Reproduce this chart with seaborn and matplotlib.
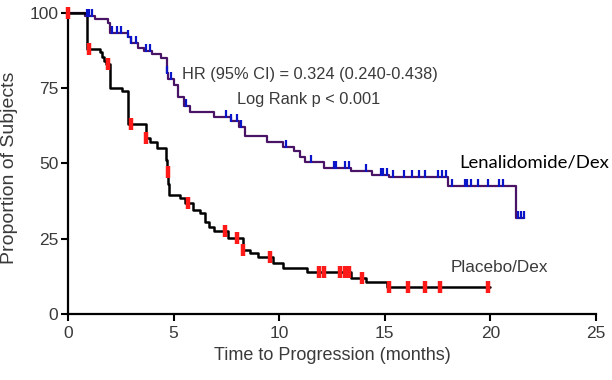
import numpy as np
import pandas as pd
import matplotlib
matplotlib.use("Agg")
import matplotlib.pyplot as plt
import seaborn as sns

# ---- data ----
len_time = [0, 0.8, 1.3, 1.9, 2.0, 2.85, 3.0, 3.3, 3.6, 4.0, 4.4, 4.7, 4.75, 5.0, 5.2, 5.5, 5.8,
            6.9, 7.7, 8.1, 8.4, 9.4, 10.2, 10.7, 11.0, 11.2, 12.1, 13.4, 14.4, 15.2, 18.0, 21.2, 21.6]
len_surv = [100, 99, 98, 96.5, 93.2, 92, 90, 88.5, 87.5, 86.5, 85, 80, 78, 76, 72, 69, 67,
            65.5, 64, 62, 59, 57, 55.5, 54, 52, 50.5, 48.5, 47.5, 46.2, 45.4, 42.6, 32, 32]
len_cens_t = [0.9, 1.0, 1.15, 2.1, 2.3, 2.5, 2.85, 3.0, 3.2, 3.7, 3.9, 4.7, 4.9, 5.6, 7.5, 7.7, 8.0, 8.2,
              10.3, 11.5, 12.6, 12.7, 13.1, 13.3, 14.1, 14.8, 14.9, 15.1, 15.4, 15.9, 16.3, 16.6, 16.9,
              17.5, 17.7, 17.9, 18.2, 18.8, 18.9, 19.1, 19.4, 19.9, 20.4, 20.6, 21.3, 21.45, 21.6]

pla_time = [0, 0.9, 1.5, 1.6, 1.7, 1.8, 2.0, 2.55, 2.85, 3.7, 3.9, 4.2, 4.65, 4.7, 4.75, 4.8,
            5.3, 5.55, 5.9, 6.25, 6.5, 6.7, 6.9, 7.6, 8.3, 8.6, 9.0, 9.7, 10.2, 11.3, 13.4, 14.1, 15.1, 20.0]
pla_surv = [100, 88, 87, 85.5, 84, 83, 75, 74, 63, 58.5, 57, 55, 51, 47, 43, 39.5,
            38.5, 37, 34.5, 33.5, 30.5, 29, 27.6, 25.3, 21.3, 20.3, 19, 17, 15.3, 14, 12, 10.6, 9, 9]
pla_cens_t = [0, 1.0, 1.9, 3.0, 3.7, 4.72, 5.7, 7.45, 8.0, 8.3, 9.57, 11.9, 12.1, 12.9, 13.1, 13.3,
              13.9, 15.2, 16.1, 16.9, 17.6, 19.9]

x_ticks = [0, 5, 10, 15, 20, 25]
y_ticks = [0, 25, 50, 75, 100]


def step_value(times, surv, t):
    idx = np.searchsorted(times, t, side="right") - 1
    return surv[max(idx, 0)]


len_df = pd.DataFrame({"t": len_time, "s": len_surv})
pla_df = pd.DataFrame({"t": pla_time, "s": pla_surv})
len_c = pd.DataFrame({"t": len_cens_t, "s": [step_value(len_time, len_surv, t) for t in len_cens_t]})
pla_c = pd.DataFrame({"t": pla_cens_t, "s": [step_value(pla_time, pla_surv, t) for t in pla_cens_t]})

sns.set_theme(style="ticks")
plt.rcParams["font.family"] = ["Liberation Sans", "DejaVu Sans"]

fig = plt.figure(figsize=(6.12, 3.80), dpi=100)
ax = fig.add_axes([0.111, 0.174, 0.863, 0.792])

line_purple = "#4a1466"
sns.lineplot(data=len_df, x="t", y="s", drawstyle="steps-post", color=line_purple, lw=1.6,
             estimator=None, sort=False, ax=ax, clip_on=False, zorder=3)
sns.lineplot(data=pla_df, x="t", y="s", drawstyle="steps-post", color="black", lw=1.8,
             estimator=None, sort=False, ax=ax, clip_on=False, zorder=3)

ax.plot(len_c["t"], len_c["s"] + 1.0, ls="none", marker="|", ms=6, mew=1.6,
        color="#0a14c8", clip_on=False, zorder=4)
ax.plot(pla_c["t"], pla_c["s"], ls="none", marker="|", ms=8, mew=3.2,
        color="#ff1a1a", clip_on=False, zorder=4)

ax.set_xlim(0, 25)
ax.set_ylim(0, 100)
ax.set_xticks(x_ticks)
ax.set_yticks(y_ticks)
ax.set_xticklabels([str(v) for v in x_ticks])
ax.set_yticklabels([str(v) for v in y_ticks])

txt = "#3a3a3a"
ax.tick_params(axis="both", direction="out", length=5, width=1.5, color="black",
               labelsize=12.5, labelcolor=txt)
ax.tick_params(axis="x", pad=4)
ax.tick_params(axis="y", pad=2)
for sp in ["top", "right"]:
    ax.spines[sp].set_visible(False)
for sp in ["left", "bottom"]:
    ax.spines[sp].set_linewidth(1.6)
    ax.spines[sp].set_color("black")

ax.set_xlabel("Time to Progression (months)", fontsize=13, color=txt)
ax.set_ylabel("Proportion of Subjects", fontsize=14, color=txt)
ax.xaxis.set_label_coords(0.5, -0.11)
ax.yaxis.set_label_coords(-0.095, 0.485)

ax.text(5.4, 79.4, "HR (95% CI) = 0.324 (0.240-0.438)", fontsize=11.8, color=txt,
        ha="left", va="center")
ax.text(8.0, 71.2, "Log Rank p < 0.001", fontsize=11.8, color=txt, ha="left", va="center")
ax.text(18.5, 50.2, "Lenalidomide/Dex", fontsize=13.3, color="black", ha="left", va="center",
        family=["Lato", "DejaVu Sans"])
ax.text(18.1, 15.3, "Placebo/Dex", fontsize=12.3, color=txt, ha="left", va="center")

fig.savefig("out.png", dpi=100)
